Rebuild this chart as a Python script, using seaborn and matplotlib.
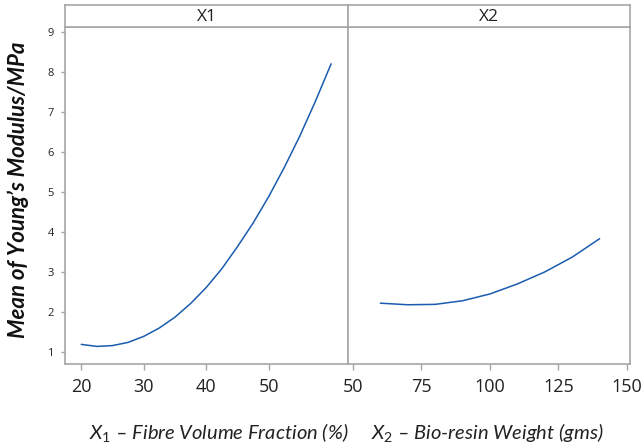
import pandas as pd
import matplotlib
matplotlib.use("Agg")
from matplotlib import pyplot as plt
import seaborn as sns

# main effects
x1 = [20, 22.5, 25, 27.5, 30, 32.5, 35, 37.5, 40, 42.5, 45, 47.5, 50, 52.5, 55, 57.5, 60]
y1 = [1.19, 1.14, 1.16, 1.24, 1.39, 1.60, 1.87, 2.21, 2.61, 3.08, 3.63, 4.22, 4.88, 5.61, 6.40, 7.27, 8.20]
x2 = [60, 70, 80, 90, 100, 110, 120, 130, 140]
y2 = [2.22, 2.18, 2.19, 2.28, 2.45, 2.70, 3.00, 3.37, 3.83]

x1_ticks = [20, 30, 40, 50]
x2_ticks = [50, 75, 100, 125, 150]
y_ticks = [1, 2, 3, 4, 5, 6, 7, 8, 9]
panels = ["X1", "X2"]
xlabels = [r"$\mathit{X}_{\mathit{1}}$ – Fibre Volume Fraction (%)",
           r"$\mathit{X}_{\mathit{2}}$ – Bio-resin Weight (gms)"]

sns.set_style("white")
plt.rcParams["font.family"] = ["Open Sans", "DejaVu Sans"]
plt.rcParams["mathtext.fontset"] = "custom"
plt.rcParams["mathtext.it"] = "Lato:italic"
plt.rcParams["mathtext.rm"] = "Lato"

line_col = "#1a5cae"
frame_col = "#a6a6a6"

df1 = pd.DataFrame({"x": x1, "y": y1})
df2 = pd.DataFrame({"x": x2, "y": y2})

fig = plt.figure(figsize=(6.44, 4.46), dpi=100)
W, H = 644, 446

def box(l, t, r, b):
    return [l / W, 1 - b / H, (r - l) / W, (b - t) / H]

ax1 = fig.add_axes(box(65, 27, 348, 364))
ax2 = fig.add_axes(box(348, 27, 630, 364))
s1 = fig.add_axes(box(65, 5, 348, 27))
s2 = fig.add_axes(box(348, 5, 630, 27))

sns.lineplot(data=df1, x="x", y="y", ax=ax1, color=line_col, linewidth=1.1)
sns.lineplot(data=df2, x="x", y="y", ax=ax2, color=line_col, linewidth=1.1)

ax1.set_xlim(17.4, 62.7)
ax2.set_xlim(48.2, 151.1)
for ax in (ax1, ax2):
    ax.set_ylim(0.7, 9.12)
    ax.set_xlabel("")
    ax.set_ylabel("")
    for sp in ax.spines.values():
        sp.set_color(frame_col)
        sp.set_linewidth(1.2)

ax1.set_xticks(x1_ticks)
ax2.set_xticks(x2_ticks)
ax1.set_yticks(y_ticks)
ax2.set_yticks([])
for ax in (ax1, ax2):
    ax.tick_params(axis="x", direction="out", length=4, width=1, color=frame_col,
                   labelsize=13, labelcolor="#222222", pad=6, bottom=True)
ax1.tick_params(axis="y", direction="out", length=3, width=1, color=frame_col,
                labelsize=8, labelcolor="#222222", pad=5, left=True)

for s, name in zip((s1, s2), panels):
    s.set_xticks([])
    s.set_yticks([])
    for sp in s.spines.values():
        sp.set_color(frame_col)
        sp.set_linewidth(1.2)
    s.text(0.5, 0.45, name, ha="center", va="center", fontsize=12.5,
           color="#222222", transform=s.transAxes)

fig.text(219 / W, 1 - 432 / H, xlabels[0], ha="center", va="center",
         fontsize=14.5, style="italic", family=["Lato", "DejaVu Sans"], color="#222222")
fig.text(487 / W, 1 - 432 / H, xlabels[1], ha="center", va="center",
         fontsize=14.5, style="italic", family=["Lato", "DejaVu Sans"], color="#222222")
fig.text(18 / W, 1 - 190 / H, "Mean of Young’s Modulus/MPa", rotation=90,
         ha="center", va="center", fontsize=16, style="italic", weight="bold",
         family=["Lato", "DejaVu Sans"], color="#111111")

fig.savefig("out.png", dpi=100)
